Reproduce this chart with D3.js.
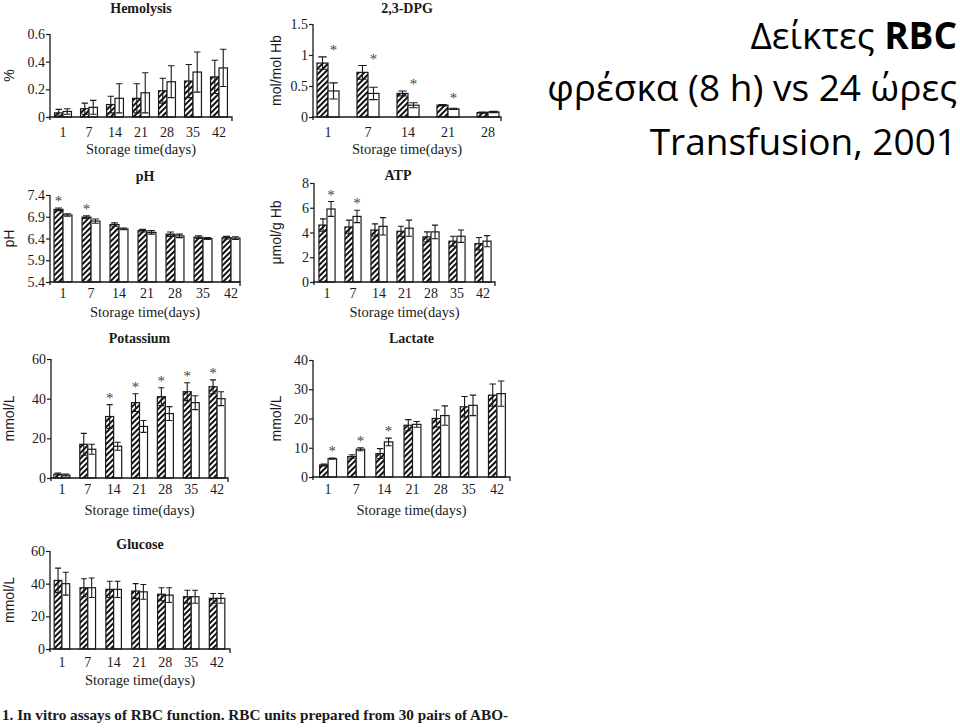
<!DOCTYPE html>
<html>
<head>
<meta charset="utf-8">
<script src="https://cdn.jsdelivr.net/npm/d3@7"></script>
<style>
body { margin: 0; background: #fff; }
svg { display: block; }
</style>
</head>
<body>
<div id="plotspace"></div>
<script>
var days = [1, 7, 14, 21, 28, 35, 42];
var dpgDays = [1, 7, 14, 21, 28];
var xTitle = "Storage time(days)";

// fresh (8 h) = hatched bars, 24 h = open bars; sd = half the error bar
var hemoFresh = [0.03, 0.06, 0.09, 0.135, 0.19, 0.26, 0.29];
var hemoFreshSd = [0.025, 0.04, 0.06, 0.105, 0.09, 0.12, 0.12];
var hemo24 = [0.04, 0.07, 0.135, 0.175, 0.255, 0.325, 0.355];
var hemo24Sd = [0.02, 0.05, 0.105, 0.145, 0.115, 0.145, 0.135];

var dpgFresh = [0.87, 0.72, 0.38, 0.19, 0.07];
var dpgFreshSd = [0.10, 0.11, 0.04, 0.01, 0.01];
var dpg24 = [0.42, 0.38, 0.19, 0.13, 0.08];
var dpg24Sd = [0.13, 0.10, 0.04, 0.01, 0.01];

var phFresh = [7.07, 6.89, 6.72, 6.58, 6.50, 6.43, 6.42];
var phFreshSd = [0.03, 0.03, 0.04, 0.03, 0.05, 0.03, 0.03];
var ph24 = [6.94, 6.80, 6.62, 6.54, 6.46, 6.40, 6.41];
var ph24Sd = [0.03, 0.05, 0.02, 0.04, 0.04, 0.02, 0.03];

var atpFresh = [4.6, 4.45, 4.2, 4.1, 3.65, 3.3, 3.1];
var atpFreshSd = [0.5, 0.55, 0.5, 0.4, 0.4, 0.4, 0.5];
var atp24 = [5.9, 5.3, 4.5, 4.35, 4.05, 3.7, 3.3];
var atp24Sd = [0.6, 0.5, 0.7, 0.65, 0.55, 0.5, 0.45];

var kFresh = [2, 17, 31, 38, 41, 43.5, 46];
var kFreshSd = [0.5, 5.5, 6, 4.5, 4.5, 4.5, 3.5];
var k24 = [1.5, 14.5, 16, 26, 32.5, 38, 40];
var k24Sd = [0.5, 2.5, 2, 3, 3.5, 3.5, 3.5];

var lacFresh = [4.1, 7, 8, 17.7, 20, 24, 28];
var lacFreshSd = [0.3, 0.6, 1.7, 1.9, 2.9, 3.5, 3.8];
var lac24 = [6.3, 9.5, 12, 18, 21, 24.5, 28.5];
var lac24Sd = [0.2, 0.5, 1.3, 1, 3.3, 3.5, 4.3];

var gluFresh = [42, 37.5, 36.5, 35.5, 33.5, 32, 31];
var gluFreshSd = [7.5, 5.5, 5, 4.5, 4, 4, 3];
var glu24 = [40, 37.5, 36.5, 35, 33, 32, 31];
var glu24Sd = [7, 6, 5, 4.5, 4.5, 4, 3];

var headLines = ["Δείκτες ", "RBC", "φρέσκα (8 h) vs 24 ώρες", "Transfusion, 2001"];
var caption = "1. In vitro assays of RBC function. RBC units prepared from 30 pairs of ABO-";

var panels = [
    {title: "Hemolysis", ylab: "%", cats: days, a: hemoFresh, aSd: hemoFreshSd, b: hemo24, bSd: hemo24Sd,
     domain: [0, 0.6], ticks: [0, 0.2, 0.4, 0.6], stars: [], starSeries: 0,
     ax: 50, xEnd: 232, band: [50, 232], pad: 0.35, yB: 117, yT: 34, labX: 14,
     titleY: 13, tickY: 137, xlabY: 154},
    {title: "2,3-DPG", ylab: "mol/mol Hb", cats: dpgDays, a: dpgFresh, aSd: dpgFreshSd, b: dpg24, bSd: dpg24Sd,
     domain: [0, 1.5], ticks: [0, 0.5, 1, 1.5], stars: [1, 7, 14, 21], starSeries: 1,
     ax: 313, xEnd: 501, band: [308, 508], pad: 0.45, yB: 117, yT: 24, labX: 281,
     titleY: 13, tickY: 137, xlabY: 154},
    {title: "pH", ylab: "pH", cats: days, a: phFresh, aSd: phFreshSd, b: ph24, bSd: ph24Sd,
     domain: [5.4, 7.4], ticks: [5.4, 5.9, 6.4, 6.9, 7.4], stars: [1, 7], starSeries: 0,
     ax: 50, xEnd: 240, band: [49, 245], pad: 0.36, yB: 282, yT: 195, labX: 14,
     titleY: 181, tickY: 298, xlabY: 317},
    {title: "ATP", ylab: "μmol/g Hb", cats: days, a: atpFresh, aSd: atpFreshSd, b: atp24, bSd: atp24Sd,
     domain: [0, 8], ticks: [0, 2, 4, 6, 8], stars: [1, 7], starSeries: 1,
     ax: 314, xEnd: 495, band: [314, 496], pad: 0.38, yB: 282, yT: 183, labX: 281, titleX: 398,
     titleY: 180, tickY: 298, xlabY: 317},
    {title: "Potassium", ylab: "mmol/L", cats: days, a: kFresh, aSd: kFreshSd, b: k24, bSd: k24Sd,
     domain: [0, 60], ticks: [0, 20, 40, 60], stars: [14, 21, 28, 35, 42], starSeries: 0,
     ax: 51, xEnd: 228, band: [49, 230], pad: 0.38, yB: 478, yT: 359, labX: 14,
     titleY: 343, tickY: 494, xlabY: 515},
    {title: "Lactate", ylab: "mmol/L", cats: days, a: lacFresh, aSd: lacFreshSd, b: lac24, bSd: lac24Sd,
     domain: [0, 40], ticks: [0, 10, 20, 30, 40], stars: [1, 7, 14], starSeries: 1,
     ax: 313, xEnd: 510, band: [314, 511], pad: 0.4, yB: 477, yT: 360, labX: 281,
     titleY: 343, tickY: 494, xlabY: 515},
    {title: "Glucose", ylab: "mmol/L", cats: days, a: gluFresh, aSd: gluFreshSd, b: glu24, bSd: glu24Sd,
     domain: [0, 60], ticks: [0, 20, 40, 60], stars: [], starSeries: 0,
     ax: 50, xEnd: 230, band: [49, 230], pad: 0.4, yB: 649, yT: 551, labX: 14,
     titleY: 549, tickY: 667, xlabY: 685}
];

var serif = "'Liberation Serif', 'Times New Roman', serif";
var sans = "'Liberation Sans', Arial, sans-serif";
var ink = "#1a1a1a";

var svg = d3.select("#plotspace").
    append("svg").
    attr("width", 960).
    attr("height", 728);

// diagonal hatching for the fresh bars
svg.append("defs").
    append("pattern").
    attr("id", "hatch").
    attr("patternUnits", "userSpaceOnUse").
    attr("width", 4).
    attr("height", 4).
    attr("patternTransform", "rotate(45)").
    call(function(p) {
        p.append("rect").attr("width", 4).attr("height", 4).attr("fill", "#fff");
        p.append("line").attr("x1", 1).attr("y1", 0).attr("x2", 1).attr("y2", 4).
            attr("stroke", "#111").attr("stroke-width", 2);
    });

var drawPanel = function(p) {
    var g = svg.append("g");
    var y = d3.scaleLinear().domain(p.domain).range([p.yB, p.yT]);
    var x = d3.scaleBand().domain(p.cats).range(p.band).paddingInner(p.pad).paddingOuter(p.pad / 2);
    var xs = d3.scaleBand().domain([0, 1]).range([0, x.bandwidth()]);
    var bw = xs.bandwidth();
    var base = p.domain[0];

    var rows = p.cats.map(function(d, i) {
        return [
            {cat: d, s: 0, v: p.a[i], sd: p.aSd[i]},
            {cat: d, s: 1, v: p.b[i], sd: p.bSd[i]}
        ];
    });
    var flat = [].concat.apply([], rows);
    var cx = function(r) { return x(r.cat) + xs(r.s) + bw / 2; };

    g.selectAll("rect.bar").
        data(flat).
        enter().
        append("rect").
        attr("class", "bar").
        attr("x", function(r) { return x(r.cat) + xs(r.s); }).
        attr("y", function(r) { return y(r.v); }).
        attr("width", bw).
        attr("height", function(r) { return y(base) - y(r.v); }).
        attr("fill", function(r) { return r.s === 0 ? "url(#hatch)" : "#fff"; }).
        attr("stroke", ink).
        attr("stroke-width", 1.2);

    // error bars, capped at both ends
    var cap = bw * 0.38;
    g.selectAll("path.err").
        data(flat).
        enter().
        append("path").
        attr("class", "err").
        attr("d", function(r) {
            var c = cx(r), lo = y(Math.max(base, r.v - r.sd)), hi = y(r.v + r.sd);
            var pth = d3.path();
            pth.moveTo(c, lo);
            pth.lineTo(c, hi);
            pth.moveTo(c - cap, hi);
            pth.lineTo(c + cap, hi);
            pth.moveTo(c - cap, lo);
            pth.lineTo(c + cap, lo);
            return pth;
        }).
        attr("fill", "none").
        attr("stroke", ink).
        attr("stroke-width", 1.1);

    // significance stars
    g.selectAll("text.star").
        data(rows.filter(function(r) { return p.stars.indexOf(r[0].cat) > -1; })).
        enter().
        append("text").
        attr("class", "star").
        attr("x", function(r) { return cx(r[p.starSeries]); }).
        attr("y", function(r) {
            return Math.min(y(r[0].v + r[0].sd), y(r[1].v + r[1].sd)) - 2;
        }).
        attr("text-anchor", "middle").
        attr("font-family", serif).
        attr("font-size", 15).
        attr("fill", "#444").
        text("*");

    // y axis
    var axis = d3.axisLeft(y).
        tickValues(p.ticks).
        tickFormat(function(d) { return String(d); }).
        tickSize(4).
        tickSizeOuter(0);
    var ag = g.append("g").
        attr("transform", "translate(" + p.ax + ",0)").
        call(axis);
    ag.select(".domain").remove();
    ag.selectAll("line").attr("stroke", ink).attr("stroke-width", 1.2);
    ag.selectAll("text").
        attr("font-family", serif).
        attr("font-size", 14).
        attr("fill", ink).
        attr("dy", "0.33em").
        attr("x", -5);
    g.append("line").
        attr("x1", p.ax).attr("x2", p.ax).
        attr("y1", p.yT).attr("y2", p.yB + 3).
        attr("stroke", ink).attr("stroke-width", 1.3);

    // x axis
    g.append("path").
        attr("d", "M" + (p.ax - 1) + "," + p.yB + "H" + p.xEnd + "V" + (p.yB + 4)).
        attr("fill", "none").
        attr("stroke", ink).
        attr("stroke-width", 1.3);
    g.selectAll("text.xtick").
        data(p.cats).
        enter().
        append("text").
        attr("class", "xtick").
        attr("x", function(d) { return x(d) + x.bandwidth() / 2; }).
        attr("y", p.tickY).
        attr("text-anchor", "middle").
        attr("font-family", serif).
        attr("font-size", 14).
        attr("fill", ink).
        text(function(d) { return d; });

    var mid = (p.ax + p.xEnd) / 2;
    g.append("text").
        attr("x", mid).
        attr("y", p.xlabY).
        attr("text-anchor", "middle").
        attr("font-family", serif).
        attr("font-size", 14.5).
        attr("fill", ink).
        text(xTitle);
    g.append("text").
        attr("x", p.titleX || mid).
        attr("y", p.titleY).
        attr("text-anchor", "middle").
        attr("font-family", serif).
        attr("font-weight", "bold").
        attr("font-size", 14).
        attr("fill", ink).
        text(p.title);
    g.append("text").
        attr("transform", "translate(" + p.labX + "," + ((p.yT + p.yB) / 2) + ") rotate(-90)").
        attr("text-anchor", "middle").
        attr("font-family", sans).
        attr("font-size", 14).
        attr("fill", ink).
        text(p.ylab);
};

panels.forEach(drawPanel);

// caption under the figure
svg.append("text").
    attr("x", 2).
    attr("y", 720).
    attr("font-family", serif).
    attr("font-weight", "bold").
    attr("font-size", 14).
    attr("fill", ink).
    attr("textLength", 506).
    attr("lengthAdjust", "spacingAndGlyphs").
    text(caption);

// slide heading, right aligned
var hf = "'Open Sans', 'Noto Sans', sans-serif";
var heading = function(yb) {
    return svg.append("text").
        attr("x", 957).
        attr("y", yb).
        attr("text-anchor", "end").
        attr("font-family", hf).
        attr("font-size", 37).
        attr("fill", "#000");
};
var h1 = heading(49);
h1.append("tspan").text(headLines[0]);
h1.append("tspan").attr("font-weight", "bold").text(headLines[1]);
heading(101).text(headLines[2]);
heading(155).text(headLines[3]);
</script>
</body>
</html>
